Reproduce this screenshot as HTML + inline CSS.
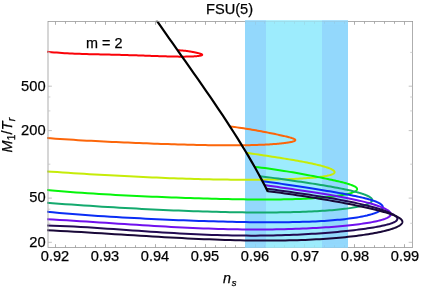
<!DOCTYPE html>
<html><head><meta charset="utf-8"><style>
html,body{margin:0;padding:0;background:#fff;}
body{width:436px;height:287px;position:relative;overflow:hidden;font-family:"Liberation Sans",sans-serif;color:#000;}
.yl{position:absolute;left:0;width:45.6px;text-align:right;font-size:14.7px;line-height:17px;height:17px;}
.xl{position:absolute;top:248.3px;width:40px;text-align:center;font-size:14.6px;line-height:17px;}
.yl,.xl,.t{will-change:transform;-webkit-text-stroke:0.25px #000;}
.t{position:absolute;font-size:14.4px;line-height:17px;white-space:nowrap;}
</style></head><body>
<svg width="436" height="287" viewBox="0 0 436 287" style="position:absolute;left:0;top:0">
<defs><clipPath id="c"><rect x="47.20" y="20.80" width="365.40" height="226.70"/></clipPath></defs>
<rect x="245" y="21.50" width="103" height="226.50" fill="#93d8fc"/>
<rect x="266" y="21.50" width="56" height="226.50" fill="#9decfd"/>
<g clip-path="url(#c)" fill="none" stroke-linejoin="round">
<path d="M177.59,50.27 L178.66,50.31 L179.72,50.36 L180.75,50.42 L181.75,50.49 L182.73,50.57 L183.69,50.66 L184.62,50.76 L185.53,50.86 L186.42,50.97 L187.28,51.09 L188.11,51.20 L188.92,51.32 L189.71,51.44 L190.48,51.56 L191.22,51.69 L191.93,51.81 L192.62,51.94 L193.29,52.06 L193.94,52.19 L194.55,52.31 L195.15,52.43 L195.72,52.55 L196.27,52.67 L196.79,52.79 L197.29,52.90 L197.76,53.02 L198.21,53.13 L198.64,53.24 L199.04,53.35 L199.42,53.45 L199.78,53.56 L200.11,53.66 L200.41,53.76 L200.69,53.85 L200.95,53.95 L201.18,54.04 L201.39,54.13 L201.58,54.22 L201.74,54.31 L201.88,54.40 L201.99,54.48 L202.08,54.57 L202.14,54.65 L202.18,54.73 L202.20,54.80 L202.19,54.88 L202.16,54.96 L202.10,55.03 L202.02,55.10 L201.92,55.17 L201.79,55.24 L201.64,55.31 L201.46,55.38 L201.26,55.44 L201.04,55.51 L200.79,55.57 L200.52,55.63 L200.22,55.69 L199.90,55.75 L199.55,55.81 L199.18,55.87 L198.79,55.92 L198.37,55.98 L197.93,56.03 L197.46,56.08 L196.97,56.13 L196.46,56.17 L195.92,56.22 L195.36,56.26 L194.77,56.30 L194.16,56.34 L193.53,56.38 L192.87,56.41 L192.19,56.44 L191.48,56.47 L190.75,56.50 L189.99,56.53 L189.21,56.55 L188.41,56.57 L187.58,56.59 L186.73,56.61 L185.85,56.62 L184.95,56.63 L184.03,56.64 L183.08,56.64 L182.11,56.64 L181.11,56.64 L180.09,56.64 L179.05,56.63 L177.98,56.62 L176.89,56.61 L175.77,56.59 L174.63,56.58 L173.46,56.55 L172.27,56.53 L171.06,56.50 L169.82,56.48 L168.56,56.44 L167.28,56.41 L165.97,56.37 L164.63,56.33 L163.27,56.29 L161.89,56.25 L160.49,56.20 L159.06,56.16 L157.60,56.11 L156.12,56.06 L154.62,56.00 L153.09,55.95 L151.54,55.90 L149.97,55.84 L148.37,55.78 L146.74,55.73 L145.10,55.67 L143.42,55.61 L141.73,55.55 L140.01,55.49 L138.26,55.43 L136.50,55.37 L134.70,55.31 L132.89,55.25 L131.05,55.20 L129.18,55.14 L127.29,55.08 L125.38,55.03 L123.45,54.97 L121.48,54.92 L119.50,54.86 L117.49,54.81 L115.46,54.76 L113.40,54.71 L111.32,54.66 L109.21,54.61 L107.08,54.56 L104.93,54.51 L102.75,54.46 L100.55,54.41 L98.32,54.36 L96.07,54.30 L93.80,54.25 L91.50,54.19 L89.18,54.13 L86.83,54.07 L84.46,54.00 L82.06,53.92 L79.64,53.84 L77.20,53.75 L74.73,53.66 L72.24,53.55 L69.73,53.43 L67.19,53.30 L64.62,53.16 L62.03,52.99 L59.42,52.81 L56.79,52.62 L54.13,52.39 L51.44,52.15 L48.73,51.88 L46.00,51.57" stroke="#fa0208" stroke-width="2.00"/>
<path d="M229.94,126.51 L232.35,126.78 L234.71,127.07 L237.02,127.37 L239.29,127.68 L241.52,127.99 L243.70,128.32 L245.83,128.65 L247.92,128.98 L249.97,129.32 L251.97,129.66 L253.92,130.00 L255.83,130.34 L257.69,130.67 L259.51,131.01 L261.29,131.34 L263.02,131.67 L264.70,131.99 L266.34,132.31 L267.93,132.62 L269.48,132.93 L270.98,133.23 L272.44,133.52 L273.86,133.81 L275.22,134.10 L276.55,134.37 L277.82,134.64 L279.06,134.91 L280.24,135.17 L281.39,135.42 L282.48,135.66 L283.54,135.90 L284.54,136.13 L285.51,136.36 L286.42,136.58 L287.30,136.80 L288.12,137.01 L288.91,137.21 L289.64,137.41 L290.33,137.61 L290.98,137.80 L291.58,137.99 L292.14,138.17 L292.65,138.35 L293.12,138.52 L293.54,138.69 L293.91,138.86 L294.24,139.03 L294.53,139.19 L294.77,139.35 L294.97,139.51 L295.12,139.66 L295.22,139.82 L295.28,139.97 L295.30,140.12 L295.27,140.27 L295.20,140.41 L295.08,140.56 L294.91,140.70 L294.70,140.85 L294.45,140.99 L294.14,141.13 L293.80,141.27 L293.41,141.41 L292.97,141.54 L292.49,141.68 L291.97,141.82 L291.40,141.95 L290.78,142.08 L290.12,142.22 L289.41,142.35 L288.66,142.48 L287.87,142.60 L287.03,142.73 L286.14,142.86 L285.21,142.98 L284.23,143.10 L283.21,143.22 L282.14,143.34 L281.03,143.46 L279.87,143.57 L278.67,143.69 L277.43,143.80 L276.13,143.90 L274.80,144.01 L273.41,144.11 L271.99,144.21 L270.51,144.30 L269.00,144.40 L267.43,144.49 L265.83,144.57 L264.17,144.65 L262.47,144.73 L260.73,144.80 L258.94,144.87 L257.11,144.94 L255.23,145.00 L253.31,145.05 L251.34,145.10 L249.33,145.15 L247.27,145.19 L245.16,145.23 L243.02,145.26 L240.82,145.29 L238.58,145.31 L236.30,145.33 L233.97,145.34 L231.59,145.34 L229.18,145.34 L226.71,145.34 L224.20,145.33 L221.65,145.31 L219.05,145.29 L216.40,145.26 L213.71,145.23 L210.98,145.19 L208.20,145.15 L205.37,145.10 L202.50,145.04 L199.59,144.98 L196.63,144.92 L193.62,144.85 L190.57,144.78 L187.47,144.70 L184.33,144.61 L181.15,144.52 L177.92,144.43 L174.64,144.33 L171.32,144.22 L167.95,144.11 L164.54,144.00 L161.09,143.88 L157.58,143.76 L154.04,143.63 L150.45,143.50 L146.81,143.36 L143.13,143.22 L139.40,143.07 L135.63,142.92 L131.81,142.77 L127.95,142.60 L124.04,142.44 L120.09,142.26 L116.09,142.08 L112.05,141.90 L107.96,141.71 L103.83,141.51 L99.65,141.30 L95.43,141.08 L91.16,140.86 L86.85,140.63 L82.49,140.38 L78.09,140.13 L73.64,139.86 L69.14,139.58 L64.61,139.28 L60.02,138.98 L55.39,138.65 L50.72,138.30 L46.00,137.94" stroke="#fc660a" stroke-width="2.00"/>
<path d="M246.35,152.74 L249.44,153.21 L252.47,153.68 L255.45,154.13 L258.38,154.57 L261.25,155.01 L264.06,155.44 L266.82,155.86 L269.53,156.27 L272.18,156.68 L274.77,157.08 L277.31,157.47 L279.79,157.86 L282.22,158.25 L284.60,158.63 L286.92,159.01 L289.18,159.38 L291.39,159.75 L293.54,160.11 L295.64,160.47 L297.69,160.83 L299.68,161.19 L301.61,161.54 L303.49,161.89 L305.31,162.24 L307.08,162.58 L308.79,162.93 L310.45,163.26 L312.05,163.60 L313.60,163.94 L315.10,164.27 L316.53,164.60 L317.92,164.92 L319.24,165.25 L320.52,165.57 L321.74,165.89 L322.90,166.21 L324.01,166.52 L325.06,166.84 L326.06,167.14 L327.00,167.45 L327.89,167.76 L328.72,168.06 L329.50,168.35 L330.22,168.65 L330.88,168.94 L331.50,169.23 L332.05,169.52 L332.56,169.80 L333.00,170.08 L333.39,170.36 L333.73,170.63 L334.01,170.91 L334.24,171.17 L334.41,171.44 L334.53,171.70 L334.59,171.95 L334.60,172.21 L334.55,172.46 L334.44,172.70 L334.28,172.95 L334.07,173.18 L333.80,173.42 L333.48,173.65 L333.10,173.88 L332.66,174.10 L332.18,174.32 L331.63,174.54 L331.03,174.75 L330.38,174.96 L329.67,175.16 L328.90,175.36 L328.08,175.55 L327.21,175.75 L326.28,175.93 L325.30,176.12 L324.26,176.30 L323.16,176.47 L322.01,176.64 L320.81,176.81 L319.55,176.97 L318.23,177.13 L316.86,177.28 L315.44,177.43 L313.95,177.58 L312.42,177.72 L310.83,177.86 L309.18,177.99 L307.48,178.12 L305.73,178.24 L303.92,178.36 L302.05,178.47 L300.13,178.58 L298.15,178.69 L296.12,178.79 L294.04,178.88 L291.90,178.97 L289.70,179.06 L287.45,179.14 L285.14,179.22 L282.78,179.29 L280.36,179.36 L277.89,179.42 L275.37,179.47 L272.79,179.52 L270.15,179.57 L267.46,179.61 L264.71,179.64 L261.91,179.67 L259.05,179.70 L256.14,179.72 L253.17,179.73 L250.15,179.73 L247.07,179.73 L243.94,179.73 L240.75,179.72 L237.51,179.70 L234.21,179.67 L230.86,179.64 L227.45,179.60 L223.99,179.56 L220.47,179.50 L216.90,179.44 L213.27,179.38 L209.59,179.30 L205.85,179.22 L202.06,179.13 L198.21,179.03 L194.31,178.93 L190.35,178.82 L186.34,178.70 L182.27,178.57 L178.15,178.43 L173.97,178.28 L169.73,178.13 L165.44,177.96 L161.10,177.79 L156.70,177.61 L152.25,177.42 L147.74,177.22 L143.18,177.02 L138.56,176.80 L133.88,176.57 L129.15,176.34 L124.37,176.09 L119.53,175.84 L114.64,175.58 L109.69,175.30 L104.68,175.02 L99.62,174.73 L94.51,174.43 L89.34,174.13 L84.11,173.81 L78.83,173.48 L73.50,173.15 L68.11,172.81 L62.67,172.46 L57.17,172.10 L51.61,171.74 L46.00,171.37" stroke="#c6ec08" stroke-width="2.00"/>
<path d="M254.55,166.87 L258.06,167.27 L261.50,167.68 L264.89,168.11 L268.21,168.55 L271.47,169.01 L274.67,169.47 L277.81,169.94 L280.89,170.42 L283.91,170.90 L286.87,171.38 L289.77,171.87 L292.60,172.35 L295.38,172.83 L298.09,173.31 L300.74,173.78 L303.33,174.25 L305.86,174.72 L308.33,175.18 L310.74,175.63 L313.09,176.08 L315.37,176.52 L317.60,176.95 L319.76,177.38 L321.87,177.80 L323.91,178.21 L325.89,178.62 L327.81,179.02 L329.67,179.41 L331.47,179.79 L333.21,180.17 L334.88,180.54 L336.50,180.91 L338.05,181.27 L339.55,181.62 L340.98,181.97 L342.35,182.31 L343.66,182.65 L344.91,182.98 L346.10,183.31 L347.23,183.63 L348.30,183.95 L349.30,184.27 L350.25,184.58 L351.13,184.89 L351.95,185.20 L352.71,185.50 L353.42,185.81 L354.06,186.11 L354.63,186.41 L355.15,186.70 L355.61,187.00 L356.01,187.29 L356.34,187.58 L356.61,187.88 L356.83,188.17 L356.98,188.46 L357.07,188.75 L357.10,189.03 L357.07,189.32 L356.98,189.61 L356.82,189.89 L356.61,190.18 L356.34,190.46 L356.00,190.75 L355.60,191.03 L355.14,191.31 L354.63,191.59 L354.05,191.87 L353.41,192.15 L352.70,192.42 L351.94,192.70 L351.12,192.97 L350.23,193.24 L349.29,193.50 L348.28,193.77 L347.21,194.03 L346.08,194.29 L344.89,194.54 L343.64,194.79 L342.33,195.04 L340.96,195.28 L339.52,195.52 L338.03,195.75 L336.47,195.98 L334.86,196.21 L333.18,196.42 L331.44,196.64 L329.64,196.84 L327.78,197.04 L325.86,197.24 L323.88,197.42 L321.83,197.60 L319.73,197.78 L317.56,197.94 L315.34,198.10 L313.05,198.25 L310.70,198.39 L308.29,198.53 L305.82,198.66 L303.29,198.77 L300.70,198.88 L298.05,198.98 L295.33,199.08 L292.56,199.16 L289.72,199.24 L286.82,199.30 L283.86,199.36 L280.85,199.41 L277.77,199.45 L274.62,199.48 L271.42,199.50 L268.16,199.51 L264.83,199.52 L261.45,199.51 L258.00,199.50 L254.50,199.48 L250.93,199.45 L247.30,199.41 L243.61,199.36 L239.86,199.31 L236.05,199.25 L232.17,199.18 L228.24,199.10 L224.24,199.02 L220.19,198.92 L216.07,198.82 L211.89,198.72 L207.65,198.60 L203.35,198.48 L198.99,198.35 L194.57,198.22 L190.09,198.07 L185.54,197.92 L180.94,197.76 L176.27,197.60 L171.55,197.43 L166.76,197.25 L161.91,197.06 L157.00,196.86 L152.03,196.66 L147.00,196.44 L141.91,196.22 L136.75,195.98 L131.54,195.74 L126.26,195.48 L120.93,195.21 L115.53,194.92 L110.07,194.62 L104.55,194.31 L98.97,193.97 L93.33,193.62 L87.63,193.25 L81.86,192.85 L76.04,192.43 L70.15,191.98 L64.21,191.51 L58.20,191.00 L52.13,190.46 L46.00,189.88" stroke="#05f50a" stroke-width="2.00"/>
<path d="M259.74,176.14 L263.53,176.64 L267.26,177.14 L270.92,177.63 L274.51,178.12 L278.04,178.60 L281.51,179.08 L284.91,179.55 L288.25,180.02 L291.52,180.49 L294.73,180.95 L297.87,181.40 L300.94,181.85 L303.95,182.30 L306.90,182.75 L309.78,183.19 L312.60,183.63 L315.35,184.06 L318.04,184.49 L320.66,184.92 L323.21,185.34 L325.70,185.76 L328.13,186.18 L330.49,186.59 L332.79,187.00 L335.02,187.41 L337.19,187.81 L339.29,188.22 L341.32,188.62 L343.29,189.02 L345.20,189.41 L347.04,189.81 L348.82,190.20 L350.53,190.59 L352.17,190.98 L353.76,191.36 L355.27,191.75 L356.72,192.13 L358.11,192.51 L359.43,192.89 L360.69,193.27 L361.88,193.64 L363.00,194.02 L364.06,194.39 L365.06,194.76 L365.99,195.13 L366.86,195.50 L367.66,195.87 L368.39,196.23 L369.06,196.60 L369.67,196.96 L370.21,197.32 L370.69,197.68 L371.10,198.04 L371.44,198.40 L371.73,198.75 L371.94,199.11 L372.09,199.46 L372.18,199.81 L372.20,200.15 L372.15,200.50 L372.05,200.84 L371.87,201.18 L371.63,201.52 L371.33,201.86 L370.96,202.19 L370.53,202.52 L370.03,202.85 L369.46,203.18 L368.83,203.50 L368.14,203.82 L367.38,204.13 L366.55,204.45 L365.67,204.76 L364.71,205.06 L363.69,205.36 L362.61,205.66 L361.46,205.95 L360.24,206.24 L358.97,206.52 L357.62,206.80 L356.21,207.08 L354.74,207.35 L353.20,207.61 L351.59,207.87 L349.92,208.13 L348.19,208.38 L346.39,208.62 L344.53,208.85 L342.60,209.09 L340.60,209.31 L338.54,209.53 L336.42,209.74 L334.23,209.94 L331.98,210.14 L329.66,210.33 L327.27,210.52 L324.82,210.69 L322.31,210.86 L319.73,211.02 L317.08,211.18 L314.37,211.32 L311.60,211.46 L308.76,211.59 L305.86,211.71 L302.89,211.82 L299.85,211.93 L296.75,212.02 L293.59,212.11 L290.36,212.19 L287.06,212.26 L283.71,212.31 L280.28,212.37 L276.79,212.41 L273.24,212.44 L269.62,212.46 L265.93,212.47 L262.18,212.48 L258.37,212.47 L254.49,212.45 L250.54,212.43 L246.53,212.39 L242.46,212.34 L238.32,212.28 L234.12,212.22 L229.85,212.14 L225.51,212.05 L221.11,211.95 L216.65,211.84 L212.12,211.73 L207.52,211.60 L202.86,211.45 L198.14,211.30 L193.35,211.14 L188.49,210.97 L183.57,210.78 L178.59,210.59 L173.54,210.38 L168.43,210.16 L163.25,209.93 L158.00,209.69 L152.69,209.44 L147.32,209.18 L141.88,208.90 L136.37,208.61 L130.80,208.31 L125.17,208.00 L119.47,207.68 L113.70,207.34 L107.87,206.99 L101.98,206.63 L96.02,206.25 L89.99,205.87 L83.90,205.46 L77.75,205.05 L71.53,204.62 L65.24,204.17 L58.89,203.71 L52.48,203.24 L46.00,202.75" stroke="#14aa6e" stroke-width="2.00"/>
<path d="M262.48,181.28 L266.49,181.79 L270.43,182.31 L274.31,182.83 L278.11,183.35 L281.85,183.88 L285.53,184.40 L289.13,184.93 L292.66,185.45 L296.13,185.97 L299.53,186.49 L302.86,187.00 L306.13,187.50 L309.32,188.01 L312.45,188.50 L315.51,188.99 L318.50,189.48 L321.42,189.96 L324.28,190.43 L327.07,190.89 L329.79,191.35 L332.44,191.81 L335.02,192.26 L337.54,192.70 L339.98,193.14 L342.36,193.57 L344.67,194.00 L346.92,194.42 L349.09,194.83 L351.20,195.25 L353.24,195.66 L355.21,196.06 L357.11,196.46 L358.95,196.86 L360.72,197.26 L362.42,197.65 L364.05,198.04 L365.61,198.43 L367.11,198.82 L368.53,199.21 L369.89,199.60 L371.18,199.98 L372.41,200.37 L373.56,200.75 L374.65,201.13 L375.67,201.52 L376.62,201.90 L377.50,202.29 L378.32,202.68 L379.06,203.06 L379.74,203.45 L380.35,203.84 L380.90,204.23 L381.37,204.62 L381.78,205.01 L382.12,205.40 L382.39,205.80 L382.59,206.19 L382.73,206.58 L382.79,206.98 L382.79,207.38 L382.72,207.77 L382.58,208.17 L382.38,208.57 L382.11,208.96 L381.76,209.36 L381.36,209.75 L380.88,210.15 L380.33,210.54 L379.72,210.94 L379.04,211.33 L378.29,211.72 L377.47,212.10 L376.59,212.49 L375.63,212.87 L374.61,213.25 L373.52,213.62 L372.36,214.00 L371.14,214.36 L369.85,214.72 L368.48,215.08 L367.05,215.44 L365.56,215.78 L363.99,216.12 L362.36,216.46 L360.66,216.79 L358.89,217.11 L357.05,217.42 L355.14,217.73 L353.17,218.03 L351.13,218.32 L349.02,218.60 L346.84,218.87 L344.60,219.14 L342.28,219.39 L339.90,219.64 L337.45,219.87 L334.93,220.10 L332.35,220.31 L329.69,220.52 L326.97,220.71 L324.18,220.90 L321.32,221.07 L318.40,221.23 L315.40,221.38 L312.34,221.52 L309.21,221.65 L306.01,221.76 L302.75,221.87 L299.41,221.96 L296.01,222.04 L292.54,222.11 L289.00,222.17 L285.40,222.22 L281.73,222.25 L277.98,222.28 L274.17,222.29 L270.29,222.29 L266.35,222.29 L262.33,222.27 L258.25,222.23 L254.10,222.19 L249.88,222.14 L245.60,222.08 L241.24,222.00 L236.82,221.92 L232.33,221.83 L227.77,221.72 L223.15,221.61 L218.45,221.48 L213.69,221.35 L208.86,221.21 L203.96,221.05 L199.00,220.89 L193.96,220.71 L188.86,220.53 L183.69,220.33 L178.45,220.13 L173.14,219.91 L167.77,219.68 L162.33,219.45 L156.82,219.20 L151.24,218.93 L145.59,218.66 L139.88,218.37 L134.10,218.06 L128.25,217.75 L122.33,217.41 L116.34,217.06 L110.29,216.69 L104.16,216.31 L97.97,215.90 L91.71,215.47 L85.39,215.01 L78.99,214.53 L72.53,214.02 L66.00,213.49 L59.40,212.92 L52.73,212.31 L46.00,211.67" stroke="#0a2df5" stroke-width="2.00"/>
<path d="M264.43,185.03 L268.61,185.65 L272.72,186.26 L276.76,186.85 L280.73,187.43 L284.63,188.00 L288.45,188.55 L292.21,189.10 L295.90,189.64 L299.52,190.17 L303.07,190.69 L306.54,191.21 L309.95,191.73 L313.29,192.24 L316.55,192.75 L319.75,193.25 L322.87,193.75 L325.93,194.25 L328.91,194.75 L331.83,195.25 L334.67,195.75 L337.45,196.24 L340.15,196.74 L342.78,197.23 L345.35,197.72 L347.84,198.22 L350.26,198.71 L352.62,199.20 L354.90,199.69 L357.11,200.18 L359.25,200.67 L361.32,201.15 L363.32,201.64 L365.25,202.12 L367.11,202.61 L368.90,203.09 L370.62,203.57 L372.27,204.05 L373.85,204.52 L375.36,204.99 L376.80,205.46 L378.16,205.93 L379.46,206.39 L380.69,206.85 L381.85,207.31 L382.93,207.77 L383.95,208.22 L384.90,208.67 L385.77,209.11 L386.58,209.55 L387.31,209.99 L387.98,210.42 L388.57,210.85 L389.10,211.27 L389.55,211.69 L389.94,212.11 L390.25,212.52 L390.49,212.93 L390.67,213.33 L390.77,213.73 L390.80,214.12 L390.76,214.51 L390.65,214.90 L390.47,215.28 L390.23,215.66 L389.91,216.04 L389.52,216.40 L389.06,216.77 L388.53,217.13 L387.93,217.49 L387.26,217.84 L386.52,218.19 L385.70,218.54 L384.82,218.88 L383.87,219.22 L382.85,219.56 L381.76,219.89 L380.59,220.22 L379.36,220.54 L378.06,220.86 L376.68,221.18 L375.24,221.49 L373.72,221.80 L372.14,222.11 L370.48,222.41 L368.76,222.71 L366.96,223.00 L365.10,223.30 L363.16,223.58 L361.15,223.87 L359.08,224.15 L356.93,224.42 L354.71,224.69 L352.43,224.96 L350.07,225.22 L347.64,225.48 L345.14,225.73 L342.57,225.98 L339.93,226.22 L337.22,226.46 L334.44,226.69 L331.59,226.91 L328.67,227.13 L325.68,227.34 L322.62,227.54 L319.49,227.74 L316.29,227.93 L313.02,228.10 L309.67,228.27 L306.26,228.43 L302.78,228.59 L299.23,228.73 L295.60,228.86 L291.91,228.98 L288.14,229.09 L284.31,229.18 L280.41,229.27 L276.43,229.34 L272.39,229.40 L268.27,229.44 L264.08,229.47 L259.83,229.49 L255.50,229.49 L251.10,229.47 L246.64,229.44 L242.10,229.39 L237.49,229.33 L232.81,229.25 L228.07,229.15 L223.25,229.04 L218.36,228.91 L213.40,228.76 L208.37,228.59 L203.27,228.41 L198.10,228.20 L192.86,227.98 L187.55,227.74 L182.17,227.49 L176.72,227.21 L171.20,226.92 L165.60,226.62 L159.94,226.30 L154.21,225.96 L148.41,225.61 L142.53,225.25 L136.59,224.87 L130.58,224.48 L124.49,224.08 L118.34,223.68 L112.11,223.27 L105.82,222.85 L99.45,222.43 L93.02,222.01 L86.51,221.59 L79.94,221.18 L73.29,220.77 L66.57,220.37 L59.78,219.99 L52.93,219.62 L46.00,219.28" stroke="#7010ee" stroke-width="2.00"/>
<path d="M266.31,188.63 L270.62,189.24 L274.86,189.84 L279.03,190.42 L283.12,190.99 L287.15,191.56 L291.10,192.11 L294.98,192.66 L298.79,193.21 L302.52,193.75 L306.19,194.29 L309.78,194.83 L313.30,195.37 L316.75,195.90 L320.12,196.43 L323.42,196.97 L326.65,197.50 L329.81,198.03 L332.90,198.57 L335.91,199.10 L338.86,199.63 L341.73,200.17 L344.52,200.70 L347.25,201.23 L349.90,201.77 L352.48,202.30 L354.99,202.83 L357.43,203.36 L359.80,203.89 L362.09,204.42 L364.31,204.95 L366.46,205.47 L368.54,205.99 L370.54,206.51 L372.47,207.02 L374.33,207.54 L376.12,208.04 L377.84,208.55 L379.48,209.05 L381.05,209.54 L382.55,210.04 L383.98,210.52 L385.33,211.00 L386.62,211.48 L387.83,211.95 L388.97,212.42 L390.03,212.87 L391.03,213.33 L391.95,213.78 L392.80,214.22 L393.58,214.66 L394.29,215.09 L394.92,215.51 L395.48,215.93 L395.97,216.34 L396.39,216.75 L396.74,217.15 L397.01,217.55 L397.21,217.94 L397.34,218.32 L397.40,218.70 L397.38,219.08 L397.29,219.45 L397.14,219.82 L396.90,220.18 L396.60,220.54 L396.22,220.89 L395.78,221.24 L395.26,221.59 L394.66,221.93 L394.00,222.27 L393.26,222.60 L392.46,222.94 L391.57,223.27 L390.62,223.60 L389.60,223.93 L388.50,224.25 L387.33,224.57 L386.09,224.89 L384.78,225.21 L383.39,225.53 L381.93,225.85 L380.40,226.17 L378.80,226.48 L377.13,226.80 L375.38,227.11 L373.56,227.42 L371.67,227.73 L369.71,228.04 L367.67,228.35 L365.57,228.66 L363.39,228.96 L361.14,229.26 L358.81,229.57 L356.42,229.87 L353.95,230.16 L351.41,230.46 L348.80,230.75 L346.12,231.04 L343.36,231.33 L340.53,231.61 L337.63,231.88 L334.66,232.16 L331.61,232.42 L328.50,232.68 L325.31,232.94 L322.05,233.18 L318.71,233.42 L315.31,233.65 L311.83,233.87 L308.28,234.09 L304.66,234.29 L300.97,234.48 L297.20,234.66 L293.36,234.82 L289.45,234.97 L285.47,235.11 L281.42,235.24 L277.29,235.35 L273.09,235.44 L268.82,235.51 L264.48,235.57 L260.06,235.61 L255.58,235.63 L251.02,235.63 L246.39,235.62 L241.68,235.58 L236.91,235.52 L232.06,235.44 L227.14,235.33 L222.15,235.21 L217.08,235.06 L211.95,234.89 L206.74,234.70 L201.46,234.48 L196.10,234.25 L190.68,233.99 L185.18,233.71 L179.61,233.41 L173.97,233.09 L168.26,232.75 L162.47,232.39 L156.62,232.02 L150.69,231.63 L144.68,231.23 L138.61,230.81 L132.46,230.39 L126.25,229.95 L119.95,229.52 L113.59,229.08 L107.16,228.64 L100.65,228.20 L94.07,227.78 L87.42,227.37 L80.70,226.97 L73.90,226.60 L67.04,226.25 L60.10,225.93 L53.08,225.66 L46.00,225.42" stroke="#220a52" stroke-width="2.00"/>
<path d="M267.55,191.21 L271.97,191.75 L276.31,192.30 L280.58,192.86 L284.78,193.42 L288.90,193.99 L292.95,194.56 L296.93,195.14 L300.83,195.72 L304.66,196.30 L308.41,196.89 L312.09,197.47 L315.70,198.05 L319.24,198.64 L322.70,199.22 L326.08,199.79 L329.40,200.37 L332.64,200.94 L335.80,201.51 L338.90,202.08 L341.92,202.64 L344.86,203.20 L347.74,203.75 L350.53,204.30 L353.26,204.84 L355.91,205.38 L358.49,205.91 L360.99,206.44 L363.43,206.96 L365.78,207.48 L368.07,207.99 L370.28,208.50 L372.41,209.01 L374.48,209.50 L376.47,210.00 L378.38,210.48 L380.23,210.97 L382.00,211.45 L383.69,211.92 L385.31,212.39 L386.86,212.86 L388.34,213.32 L389.74,213.78 L391.07,214.24 L392.32,214.69 L393.50,215.14 L394.61,215.59 L395.64,216.03 L396.60,216.47 L397.49,216.91 L398.30,217.34 L399.04,217.78 L399.71,218.21 L400.30,218.64 L400.82,219.07 L401.27,219.50 L401.64,219.92 L401.94,220.35 L402.16,220.77 L402.31,221.20 L402.39,221.62 L402.39,222.04 L402.32,222.46 L402.18,222.88 L401.96,223.30 L401.67,223.72 L401.31,224.14 L400.87,224.56 L400.36,224.98 L399.78,225.39 L399.12,225.81 L398.39,226.23 L397.58,226.64 L396.70,227.05 L395.75,227.47 L394.73,227.88 L393.63,228.29 L392.45,228.70 L391.21,229.11 L389.89,229.52 L388.49,229.92 L387.03,230.32 L385.49,230.72 L383.87,231.12 L382.19,231.51 L380.42,231.91 L378.59,232.29 L376.68,232.68 L374.70,233.06 L372.64,233.43 L370.52,233.80 L368.31,234.17 L366.04,234.53 L363.69,234.88 L361.26,235.23 L358.77,235.57 L356.20,235.90 L353.55,236.23 L350.84,236.54 L348.05,236.85 L345.18,237.15 L342.24,237.44 L339.23,237.72 L336.15,237.99 L332.99,238.25 L329.76,238.50 L326.45,238.74 L323.07,238.96 L319.62,239.17 L316.09,239.37 L312.49,239.56 L308.82,239.73 L305.07,239.89 L301.25,240.03 L297.36,240.16 L293.39,240.27 L289.35,240.37 L285.23,240.45 L281.05,240.51 L276.78,240.56 L272.45,240.59 L268.04,240.60 L263.56,240.60 L259.00,240.58 L254.37,240.54 L249.67,240.48 L244.89,240.40 L240.04,240.31 L235.12,240.19 L230.12,240.06 L225.05,239.91 L219.90,239.75 L214.69,239.56 L209.40,239.36 L204.03,239.14 L198.59,238.90 L193.08,238.65 L187.49,238.38 L181.83,238.09 L176.10,237.79 L170.30,237.48 L164.42,237.15 L158.46,236.80 L152.43,236.45 L146.33,236.08 L140.16,235.71 L133.91,235.32 L127.59,234.93 L121.20,234.53 L114.73,234.13 L108.19,233.72 L101.57,233.31 L94.88,232.90 L88.12,232.49 L81.28,232.08 L74.37,231.68 L67.39,231.29 L60.33,230.91 L53.20,230.54 L46.00,230.18" stroke="#190838" stroke-width="2.00"/>
<path d="M156.34,20.00 L160.46,25.92 L164.61,31.84 L168.77,37.76 L172.94,43.68 L177.12,49.60 L181.30,55.52 L185.48,61.44 L189.65,67.37 L193.81,73.29 L197.95,79.21 L202.08,85.13 L206.18,91.05 L210.25,96.97 L214.29,102.89 L218.29,108.81 L222.25,114.73 L226.16,120.65 L230.02,126.57 L233.83,132.49 L237.58,138.41 L241.26,144.33 L244.87,150.26 L248.41,156.18 L251.88,162.10 L255.26,168.02 L258.55,173.94 L261.76,179.86 L264.86,185.78 L267.87,191.70" stroke="#000" stroke-width="2.20" stroke-linejoin="miter"/>
</g>
<g stroke="#9a9a9a" stroke-width="0.8" fill="none">
<rect x="48.00" y="21.50" width="364.60" height="226.00"/>
<path stroke="#999" d="M55.50,247.50 v-3.30 M55.50,21.50 v3.30"/>
<path stroke="#999" d="M65.50,247.50 v-2.30 M65.50,21.50 v2.30"/>
<path stroke="#999" d="M75.50,247.50 v-2.30 M75.50,21.50 v2.30"/>
<path stroke="#999" d="M85.50,247.50 v-2.30 M85.50,21.50 v2.30"/>
<path stroke="#999" d="M95.50,247.50 v-2.30 M95.50,21.50 v2.30"/>
<path stroke="#999" d="M105.50,247.50 v-3.30 M105.50,21.50 v3.30"/>
<path stroke="#999" d="M115.50,247.50 v-2.30 M115.50,21.50 v2.30"/>
<path stroke="#999" d="M125.50,247.50 v-2.30 M125.50,21.50 v2.30"/>
<path stroke="#999" d="M135.50,247.50 v-2.30 M135.50,21.50 v2.30"/>
<path stroke="#999" d="M145.50,247.50 v-2.30 M145.50,21.50 v2.30"/>
<path stroke="#999" d="M155.50,247.50 v-3.30 M155.50,21.50 v3.30"/>
<path stroke="#999" d="M165.50,247.50 v-2.30 M165.50,21.50 v2.30"/>
<path stroke="#999" d="M175.50,247.50 v-2.30 M175.50,21.50 v2.30"/>
<path stroke="#999" d="M185.50,247.50 v-2.30 M185.50,21.50 v2.30"/>
<path stroke="#999" d="M195.50,247.50 v-2.30 M195.50,21.50 v2.30"/>
<path stroke="#999" d="M205.50,247.50 v-3.30 M205.50,21.50 v3.30"/>
<path stroke="#999" d="M215.50,247.50 v-2.30 M215.50,21.50 v2.30"/>
<path stroke="#999" d="M225.50,247.50 v-2.30 M225.50,21.50 v2.30"/>
<path stroke="#999" d="M235.50,247.50 v-2.30 M235.50,21.50 v2.30"/>
<path stroke="#999" d="M245.50,247.50 v-2.30 M245.50,21.50 v2.30"/>
<path stroke="#999" d="M255.50,247.50 v-3.30 M255.50,21.50 v3.30"/>
<path stroke="#999" d="M264.50,247.50 v-2.30 M264.50,21.50 v2.30"/>
<path stroke="#999" d="M274.50,247.50 v-2.30 M274.50,21.50 v2.30"/>
<path stroke="#999" d="M284.50,247.50 v-2.30 M284.50,21.50 v2.30"/>
<path stroke="#999" d="M294.50,247.50 v-2.30 M294.50,21.50 v2.30"/>
<path stroke="#999" d="M304.50,247.50 v-3.30 M304.50,21.50 v3.30"/>
<path stroke="#999" d="M314.50,247.50 v-2.30 M314.50,21.50 v2.30"/>
<path stroke="#999" d="M324.50,247.50 v-2.30 M324.50,21.50 v2.30"/>
<path stroke="#999" d="M334.50,247.50 v-2.30 M334.50,21.50 v2.30"/>
<path stroke="#999" d="M344.50,247.50 v-2.30 M344.50,21.50 v2.30"/>
<path stroke="#999" d="M354.50,247.50 v-3.30 M354.50,21.50 v3.30"/>
<path stroke="#999" d="M364.50,247.50 v-2.30 M364.50,21.50 v2.30"/>
<path stroke="#999" d="M374.50,247.50 v-2.30 M374.50,21.50 v2.30"/>
<path stroke="#999" d="M384.50,247.50 v-2.30 M384.50,21.50 v2.30"/>
<path stroke="#999" d="M394.50,247.50 v-2.30 M394.50,21.50 v2.30"/>
<path stroke="#999" d="M404.50,247.50 v-3.30 M404.50,21.50 v3.30"/>
<path stroke="#b4b4b4" d="M48.00,242.30 h3.90 M412.60,242.30 h-3.90"/>
<path stroke="#c4c4c4" d="M48.00,223.30 h2.40 M412.60,223.30 h-2.40"/>
<path stroke="#c4c4c4" d="M48.00,209.20 h2.40 M412.60,209.20 h-2.40"/>
<path stroke="#b4b4b4" d="M48.00,198.10 h3.90 M412.60,198.10 h-3.90"/>
<path stroke="#c4c4c4" d="M48.00,164.20 h2.40 M412.60,164.20 h-2.40"/>
<path stroke="#b4b4b4" d="M48.00,130.60 h3.90 M412.60,130.60 h-3.90"/>
<path stroke="#c4c4c4" d="M48.00,110.90 h2.40 M412.60,110.90 h-2.40"/>
<path stroke="#c4c4c4" d="M48.00,97.00 h2.40 M412.60,97.00 h-2.40"/>
<path stroke="#b4b4b4" d="M48.00,86.20 h3.90 M412.60,86.20 h-3.90"/>
<path stroke="#c4c4c4" d="M48.00,52.40 h2.40 M412.60,52.40 h-2.40"/>
</g>
<rect x="245" y="20" width="21" height="5.4" fill="#93d8fc" fill-opacity="0.78"/>
<rect x="245" y="243.6" width="21" height="4.4" fill="#93d8fc" fill-opacity="0.78"/>
<rect x="266" y="20" width="56" height="5.4" fill="#9decfd" fill-opacity="0.78"/>
<rect x="266" y="243.6" width="56" height="4.4" fill="#9decfd" fill-opacity="0.78"/>
<rect x="322" y="20" width="26" height="5.4" fill="#93d8fc" fill-opacity="0.78"/>
<rect x="322" y="243.6" width="26" height="4.4" fill="#93d8fc" fill-opacity="0.78"/>
</svg>
<div class="yl" style="top:233.8px">20</div>
<div class="yl" style="top:189.4px">50</div>
<div class="yl" style="top:122.1px">200</div>
<div class="yl" style="top:77.7px">500</div>
<div class="xl" style="left:35.2px">0.92</div>
<div class="xl" style="left:85.1px">0.93</div>
<div class="xl" style="left:135.0px">0.94</div>
<div class="xl" style="left:184.9px">0.95</div>
<div class="xl" style="left:234.8px">0.96</div>
<div class="xl" style="left:284.7px">0.97</div>
<div class="xl" style="left:334.6px">0.98</div>
<div class="xl" style="left:384.5px">0.99</div>
<div class="t" style="left:205.9px;top:0.6px;font-size:14.6px;">FSU(5)</div>
<div class="t" style="left:86.4px;top:35.0px;">m = 2</div>
<div class="t" style="left:223.1px;top:270.1px;font-style:italic;">n<span style="font-size:9.5px;position:relative;top:3px;margin-left:0.7px;">s</span></div>
<div class="t" style="left:-21.9px;top:126.2px;width:60px;text-align:center;transform:rotate(-90deg);font-style:italic;letter-spacing:0.25px;">M<span style="font-size:10px;position:relative;top:3px;font-style:normal">1</span><span style="font-style:normal">/</span>T<span style="font-size:10.5px;position:relative;top:3px;">r</span></div>
</body></html>
